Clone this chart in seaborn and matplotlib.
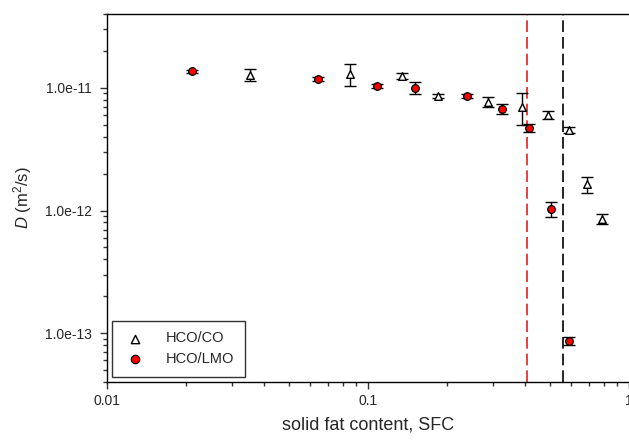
import numpy as np
import pandas as pd
import matplotlib
matplotlib.use("Agg")
import matplotlib.pyplot as plt
from matplotlib.ticker import LogLocator, FuncFormatter, NullFormatter
import seaborn as sns

# ---- data ----
co_sfc = [0.0352, 0.0853, 0.1353, 0.186, 0.287, 0.388, 0.488, 0.59, 0.692, 0.79]
co_D = [1.28e-11, 1.30e-11, 1.26e-11, 8.55e-12, 7.69e-12, 7.01e-12, 6.02e-12, 4.54e-12, 1.63e-12, 8.53e-13]
co_err = [1.45e-12, 2.7e-12, 7e-13, 3.3e-13, 6.8e-13, 2.07e-12, 4.7e-13, 2.6e-13, 2.46e-13, 7.9e-14]

lmo_sfc = [0.0211, 0.0643, 0.108, 0.151, 0.239, 0.326, 0.415, 0.503, 0.59]
lmo_D = [1.36e-11, 1.18e-11, 1.03e-11, 1.0e-11, 8.55e-12, 6.74e-12, 4.74e-12, 1.03e-12, 8.65e-14]
lmo_err = [5e-13, 4.5e-13, 4e-13, 1.06e-12, 3.3e-13, 6.7e-13, 3.7e-13, 1.45e-13, 6.7e-15]

vline_lmo = 0.407
vline_co = 0.56

labels = ["HCO/CO", "HCO/LMO"]

sns.set_style("ticks")
plt.rcParams["font.family"] = ["Liberation Sans", "DejaVu Sans"]
plt.rcParams["mathtext.fontset"] = "custom"
plt.rcParams["mathtext.rm"] = "Liberation Sans"
plt.rcParams["mathtext.it"] = "Liberation Sans:italic"

fig = plt.figure(figsize=(6.29, 4.41), dpi=100)
ax = fig.add_axes([0.1701, 0.1338, 0.8299, 0.8345])

df_co = pd.DataFrame({"sfc": co_sfc, "D": co_D})
df_lmo = pd.DataFrame({"sfc": lmo_sfc, "D": lmo_D})

# vertical dashed lines
ax.axvline(vline_lmo, color="#e02020", lw=1.2, dashes=(7, 3), zorder=1)
ax.axvline(vline_co, color="black", lw=1.2, dashes=(7, 3), zorder=1)

# error bars
ax.errorbar(co_sfc, co_D, yerr=co_err, fmt="none", ecolor="black", elinewidth=1.0,
            capsize=4.2, capthick=1.0, zorder=2)
ax.errorbar(lmo_sfc, lmo_D, yerr=lmo_err, fmt="none", ecolor="black", elinewidth=1.0,
            capsize=4.2, capthick=1.0, zorder=2)

sns.scatterplot(data=df_co, x="sfc", y="D", marker="^", s=30, color="white",
                edgecolor="black", linewidth=1.0, ax=ax, label=labels[0], zorder=3)
sns.scatterplot(data=df_lmo, x="sfc", y="D", marker="o", s=30, color="red",
                edgecolor="black", linewidth=0.9, ax=ax, label=labels[1], zorder=3)

ax.set_xscale("log")
ax.set_yscale("log")
ax.set_xlim(0.01, 1.0)
ax.set_ylim(4e-14, 4e-11)

ax.xaxis.set_major_locator(LogLocator(base=10, numticks=10))
ax.xaxis.set_minor_locator(LogLocator(base=10, subs=np.arange(2, 10), numticks=100))
ax.xaxis.set_major_formatter(FuncFormatter(lambda v, p: f"{v:g}"))
ax.xaxis.set_minor_formatter(NullFormatter())
ax.yaxis.set_major_locator(LogLocator(base=10, numticks=10))
ax.yaxis.set_minor_locator(LogLocator(base=10, subs=np.arange(2, 10), numticks=100))
ax.yaxis.set_major_formatter(FuncFormatter(lambda v, p: f"{v:.1e}"))
ax.yaxis.set_minor_formatter(NullFormatter())

ax.tick_params(which="major", direction="out", length=5, width=1, labelsize=10,
               color="#333333", pad=3.5)
ax.tick_params(which="minor", direction="out", length=3, width=1, color="#333333")
ax.tick_params(axis="y", which="major", pad=6)

for side in ["left", "bottom", "top"]:
    ax.spines[side].set_color("black")
    ax.spines[side].set_linewidth(1.0)
ax.spines["right"].set_visible(False)
ax.spines["top"].set_visible(True)

ax.set_xlabel("solid fat content, SFC", fontsize=13, labelpad=6)
ax.set_ylabel(r"$D$ (m$^2$/s)", fontsize=12, labelpad=8)

leg = ax.legend(loc="lower left", bbox_to_anchor=(0.0096, 0.0136), borderaxespad=0,
                fontsize=10.5, frameon=True, fancybox=False, edgecolor="black",
                handletextpad=1.35, handlelength=1.6, borderpad=0.75, labelspacing=0.45,
                markerscale=1.1)
leg.get_frame().set_linewidth(1.0)

fig.savefig("out.png", dpi=100)
